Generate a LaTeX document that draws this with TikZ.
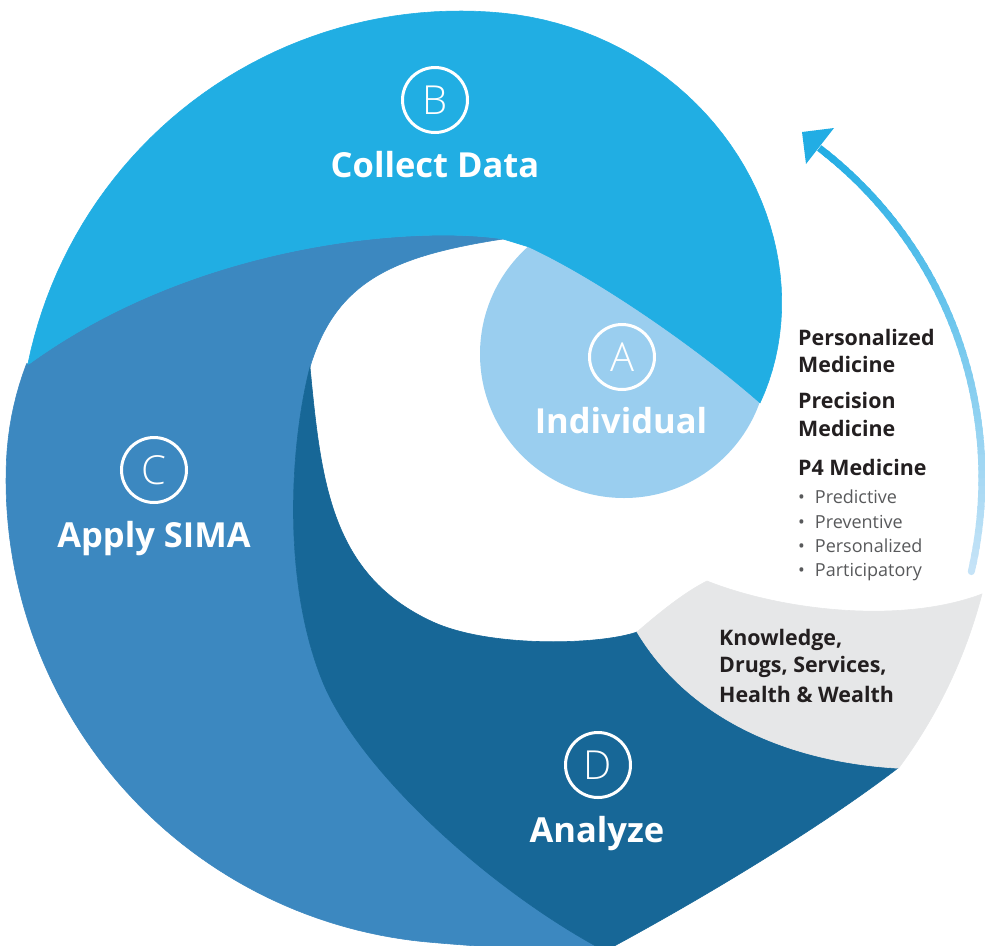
\documentclass[tikz,border=0pt]{standalone}
\usepackage{fontspec}
\setmainfont{Open Sans}
\newfontfamily\thinfont{Open Sans Light}
\usepackage{tikz}
\definecolor{collectblue}{HTML}{21AEE3}
\definecolor{simablue}{HTML}{3C88C0}
\definecolor{analyzeblue}{HTML}{176797}
\definecolor{individualblue}{HTML}{9ACEEF}
\definecolor{outputgray}{HTML}{E6E7E8}
\definecolor{darktext}{HTML}{231F20}
\definecolor{greytext}{HTML}{58595B}
\definecolor{arrowtip}{HTML}{22ADE4}
\definecolor{arrowtail}{HTML}{C5E3F7}
\tikzset{
  band/.style={line width=0.6pt},
  steplbl/.style={circle, draw=white, line width=3pt, minimum size=65pt, inner sep=0pt,
    text=white, font=\thinfont\fontsize{40}{40}\selectfont},
  stepname/.style={anchor=base, inner sep=0pt, text=white, font=\bfseries\fontsize{34.5}{34.5}\selectfont},
  sidetxt/.style={anchor=base west, inner sep=0pt, text=darktext, font=\bfseries\fontsize{21.4}{21.4}\selectfont},
  bullettxt/.style={anchor=base west, inner sep=0pt, text=greytext, font=\fontsize{18}{18}\selectfont},
  arrowseg/.style={line width=7pt, line cap=butt}
}

\begin{document}
\begin{tikzpicture}[x=1pt,y=-1pt]
		\useasboundingbox (0,0) rectangle (985,945);
		\clip (0,0) rectangle (985,945);
		% C band
		\filldraw[band, fill=simablue, draw=simablue]
			plot[domain=194.7:74, samples=90, variable=\t]
				({470+(464-0.0345*max(0,\t-182)^2+0.059*max(0,95-\t)^2)*cos(\t)},
				 {480+(464-0.0345*max(0,\t-182)^2+0.059*max(0,95-\t)^2)*sin(\t)})
			-- (605,951) .. controls (490,890) and (358,770) .. (322,680)
			.. controls (282,580) and (290,445) .. (310,367)
			.. controls (336,281) and (393,256) .. (503,239)
			.. controls (420,226) and (200,240) .. (29,364) -- cycle;
		% D band
		\filldraw[band, fill=analyzeblue, draw=analyzeblue] (310,367)
			.. controls (290,445) and (282,580) .. (322,680)
			.. controls (358,770) and (490,890) .. (605,951)
			.. controls (700,900) and (820,828) .. (898,768)
			.. controls (790,762) and (690,720) .. (637,632)
			.. controls (600,645) and (490,648) .. (433,622)
			.. controls (330,575) and (321,480) .. (310,367) -- cycle;
		% output band
		\filldraw[band, fill=outputgray, draw=outputgray] (637,632)
			.. controls (660,612) and (685,592) .. (707,581)
			.. controls (780,610) and (900,625) .. (982,594)
			-- plot[domain=13:35.2, samples=25, variable=\t]
				({490+(505-0.225*(\t-13))*cos(\t)}, {480+(505-0.225*(\t-13))*sin(\t)})
			.. controls (790,762) and (690,720) .. (637,632) -- cycle;
		% A disc
		\fill[individualblue] (624,354) circle[radius=144pt];
		% B band
		\filldraw[band, fill=collectblue, draw=collectblue]
			plot[domain=191.5:350.7, samples=90, variable=\t]
				({460+(441-0.0239*max(0,\t-275)^2)*cos(\t)}, {452+(441-0.0239*max(0,\t-275)^2)*sin(\t)})
			.. controls (700,350) and (600,280) .. (529,247)
			-- (503,239)
			.. controls (420,226) and (200,240) .. (29,364) -- cycle;
		%
		\node[steplbl]  (ltrB)  at (435,100) {B};
		\node[stepname] (nameB) at (435,177) {Collect Data};
		\node[steplbl]  (ltrA)  at (622,357) {A};
		\node[stepname] (nameA) at (621,433) {Individual};
		\node[steplbl]  (ltrC)  at (154,470) {C};
		\node[stepname] (nameC) at (154,547) {Apply SIMA};
		\node[steplbl]  (ltrD)  at (598,765) {D};
		\node[stepname] (nameD) at (597,842) {Analyze};
		%
		\node[sidetxt] (pers1) at (798,345) {Personalized};
		\node[sidetxt] (pers2) at (798,372) {Medicine};
		\node[sidetxt] (prec1) at (798,408) {Precision};
		\node[sidetxt] (prec2) at (798,436) {Medicine};
		\node[sidetxt] (pfour) at (798,475) {P4 Medicine};
		\node[bullettxt] (pf1) at (798,503) {\textbullet\hspace{10pt}Predictive};
		\node[bullettxt] (pf2) at (798,528) {\textbullet\hspace{10pt}Preventive};
		\node[bullettxt] (pf3) at (798,552) {\textbullet\hspace{10pt}Personalized};
		\node[bullettxt] (pf4) at (798,576) {\textbullet\hspace{10pt}Participatory};
		%
		\node[sidetxt] (know1) at (719,645) {Knowledge,};
		\node[sidetxt] (know2) at (719,672) {Drugs, Services,};
		\node[sidetxt] (know3) at (719,702) {Health \& Wealth};
		% feedback arrow
		\foreach \i in {0,...,59} {
			\pgfmathsetmacro\a{13-\i*65/60}
			\pgfmathsetmacro\b{\a-65/60-0.5}
			\pgfmathtruncatemacro\p{100*\i/59}
			\draw[arrowseg, draw=arrowtip!\p!arrowtail] ({566+416*cos(\a)},{478+416*sin(\a)}) -- ({566+416*cos(\b)},{478+416*sin(\b)});
		}
		\fill[arrowtail] ({566+416*cos(13)},{478+416*sin(13)}) circle[radius=3.5pt];
		\fill[arrowtip] (802,132) -- (834,128) -- (806,164) -- cycle;
\end{tikzpicture}
\end{document}
